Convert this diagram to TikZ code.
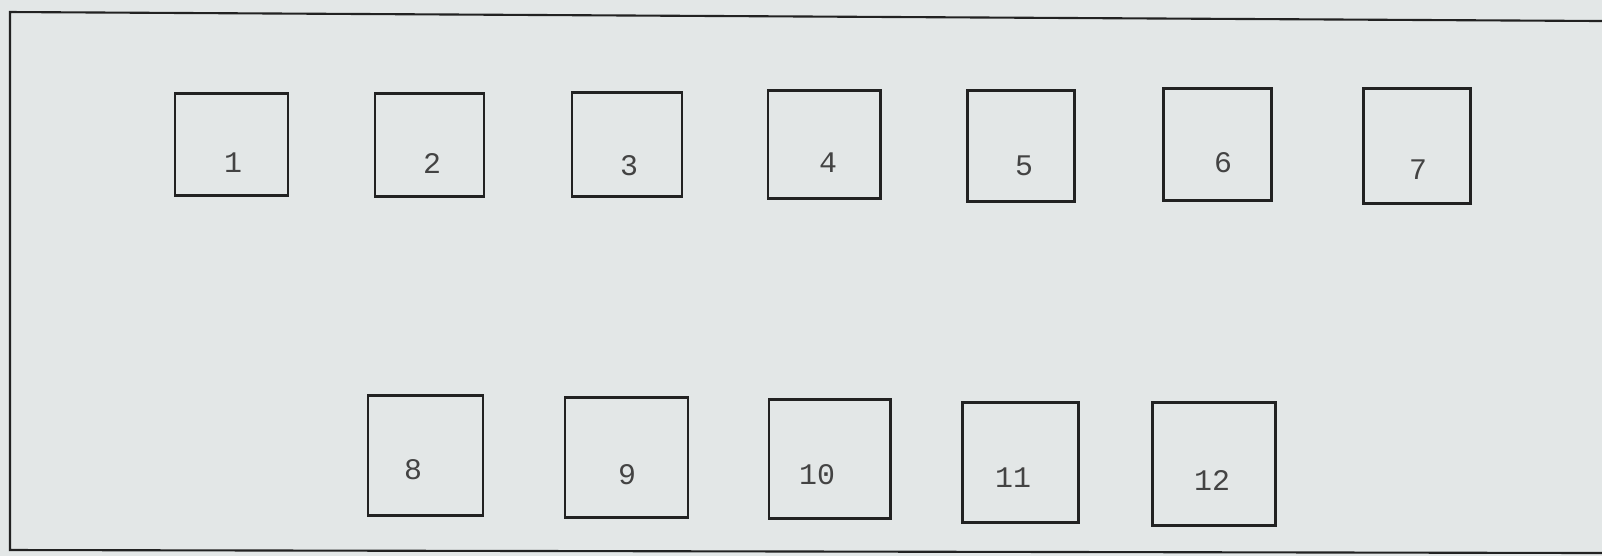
\documentclass[tikz,border=0pt]{standalone}
\usepackage{fontspec}
\setmonofont{Liberation Mono}
\usetikzlibrary{fit}

\definecolor{paper}{RGB}{227,231,231}
\definecolor{ink}{RGB}{34,34,34}

\begin{document}
\begin{tikzpicture}[x=0.01cm, y=-0.01cm,
	box/.style={draw=ink, line width=0.85pt, inner sep=0pt},
	num/.style={font=\ttfamily\fontsize{8.5}{10}\selectfont, text=ink!85, inner sep=0pt}]
	\fill[paper] (0,0) rectangle (1602,556);
	\useasboundingbox (0,0) rectangle (1602,556);
	% outer frame, open on the right
	\coordinate (tl) at (10,12);
	\coordinate (tr) at (1602,21);
	\coordinate (bl) at (10,550);
	\coordinate (br) at (1602,553);
	\draw[ink, line width=0.6pt] (tr) -- (tl) -- (bl) -- (br);
	% units: number / corners / text position
	\foreach \i/\xa/\ya/\xb/\yb/\lx/\ly in {
		1/175/93/288/195/233/163, 2/375/93/484/196/432/163,
		3/572/92/682/196/629/166, 4/768/90/880/198/828/163,
		5/967/90/1074/201/1024/166, 6/1163/88/1271/200/1223/163,
		7/1363/88/1470/203/1418/170,
		8/368/395/483/515/413/470, 9/565/397/688/517/627/475,
		10/769/399/890/518/817/475, 11/962/402/1078/522/1013/478,
		12/1152/402/1275/525/1212/480}
	{
		\node[box, fit={(\xa,\ya) (\xb,\yb)}] (b\i) {};
		\node[num] (n\i) at (\lx,\ly) {\i};
	}
\end{tikzpicture}
\end{document}
